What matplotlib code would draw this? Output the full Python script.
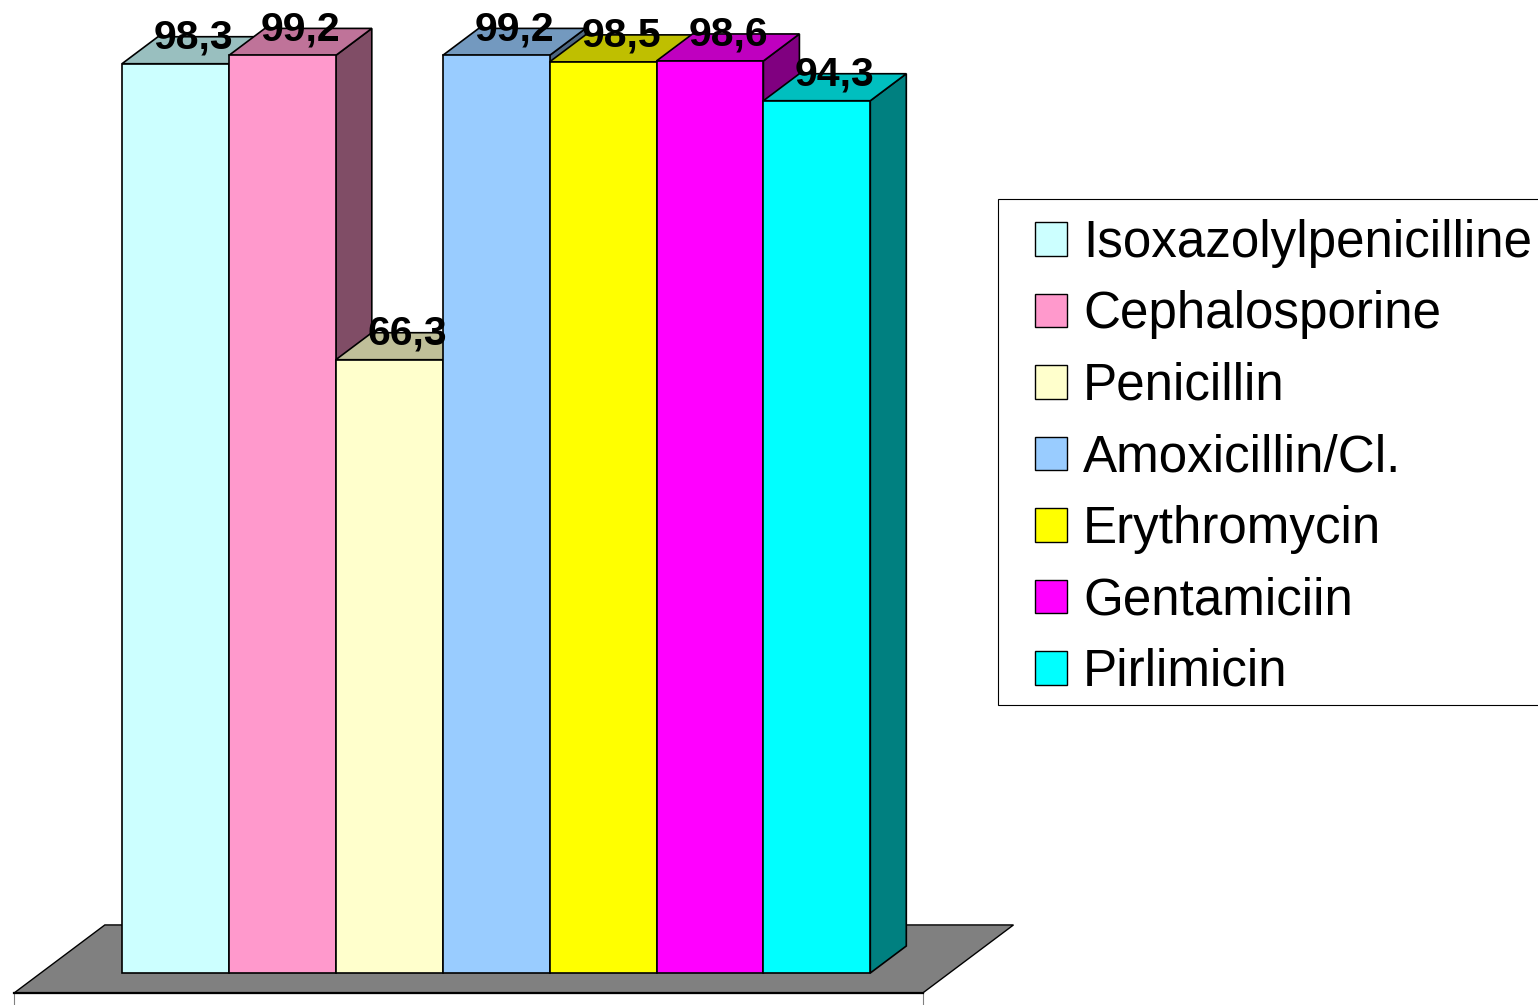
import matplotlib
matplotlib.use("Agg")
import matplotlib.pyplot as plt
from matplotlib.patches import Polygon, Patch, Rectangle
from matplotlib.colors import to_rgb

# ---- data ----
categories = ["Isoxazolylpenicilline", "Cephalosporine", "Penicillin",
              "Amoxicillin/Cl.", "Erythromycin", "Gentamiciin", "Pirlimicin"]
values = [98.3, 99.2, 66.3, 99.2, 98.5, 98.6, 94.3]
labels = ["98,3", "99,2", "66,3", "99,2", "98,5", "98,6", "94,3"]
colors = ["#CCFFFF", "#FF99CC", "#FFFFCC", "#99CCFF", "#FFFF00", "#FF00FF", "#00FFFF"]

# ---- layout (pixel geometry of the pseudo-3D scene) ----
W_PX, H_PX = 1538, 1005
X0_PX = 122          # left edge of first bar
BASE_PX = 973        # baseline of bar fronts (from top)
CAT_PX = 106.9       # width of one category
VAL_PX = 9.25        # pixels per value unit
DX = 36 / CAT_PX     # depth offset in x (data units)
DY = 27 / VAL_PX     # depth offset in y (data units)

plt.rcParams["font.family"] = ["Liberation Sans", "DejaVu Sans"]

fig = plt.figure(figsize=(W_PX / 100, H_PX / 100), dpi=100)
ax = fig.add_axes([0, 0, 1, 1])
ax.set_xlim(-X0_PX / CAT_PX, (W_PX - X0_PX) / CAT_PX)
ax.set_ylim(-(H_PX - BASE_PX) / VAL_PX, BASE_PX / VAL_PX)
ax.axis("off")


def shade(c, f):
    r, g, b = to_rgb(c)
    return (r * f, g * f, b * f)


def proj(x, z, y=0.0):
    """Project a point at depth z (0 = bar front, 1 = bar back)."""
    return (x + z * DX, y + z * DY)


n = len(values)
z_front, z_back = -0.74, 1.78
x_lo, x_hi = -0.76, n + 0.74

# floor thickness (front face)
fl = proj(x_lo, z_front)
fr = proj(x_hi, z_front)
thick = 4.0
ax.add_patch(Polygon([fl, fr, (fr[0], fr[1] - thick), (fl[0], fl[1] - thick)],
                     closed=True, facecolor="white", edgecolor="#808080",
                     linewidth=0.8, zorder=1))
# floor plane
floor = [proj(x_lo, z_front), proj(x_hi, z_front),
         proj(x_hi, z_back), proj(x_lo, z_back)]
ax.add_patch(Polygon(floor, closed=True, facecolor="#808080",
                     edgecolor="black", linewidth=1.0, zorder=2))
ax.plot([fl[0], fr[0]], [fl[1], fr[1]], color="black", linewidth=1.6, zorder=2)

# bars, painted left to right
lw = 1.2
for i, (v, c) in enumerate(zip(values, colors)):
    z = 3 + i
    side = [proj(i + 1, 0, 0), proj(i + 1, 1, 0), proj(i + 1, 1, v), proj(i + 1, 0, v)]
    top = [proj(i, 0, v), proj(i + 1, 0, v), proj(i + 1, 1, v), proj(i, 1, v)]
    front = [(i, 0), (i + 1, 0), (i + 1, v), (i, v)]
    ax.add_patch(Polygon(side, closed=True, facecolor=shade(c, 0.5),
                         edgecolor="black", linewidth=lw, zorder=z))
    ax.add_patch(Polygon(top, closed=True, facecolor=shade(c, 0.75),
                         edgecolor="black", linewidth=lw, zorder=z))
    ax.add_patch(Polygon(front, closed=True, facecolor=c,
                         edgecolor="black", linewidth=lw, zorder=z))

# value labels centred on the top faces
for i, (v, t) in enumerate(zip(values, labels)):
    cx, cy = proj(i + 0.5, 0.5, v)
    ax.text(cx, cy + 0.2, t, ha="center", va="baseline", fontsize=29.5,
            fontweight="bold", color="black", zorder=20)

# legend frame
fig.patches.append(Rectangle((998 / W_PX, 1 - 705 / H_PX), 600 / W_PX, 506 / H_PX,
                             transform=fig.transFigure, facecolor="white",
                             edgecolor="black", linewidth=0.8, zorder=30))

# legend entries
handles = [Patch(facecolor=c, edgecolor="black", linewidth=1.0) for c in colors]
leg = fig.legend(handles, categories, loc="upper left",
                 bbox_to_anchor=(1035 / W_PX, 1 - 219 / H_PX),
                 fontsize=36.8, frameon=False,
                 handlelength=0.62, handleheight=0.62, handletextpad=0.32,
                 borderpad=0.0, labelspacing=0.44, borderaxespad=0.0)
leg.set_zorder(31)

fig.savefig("out.png", dpi=100, facecolor="white")
